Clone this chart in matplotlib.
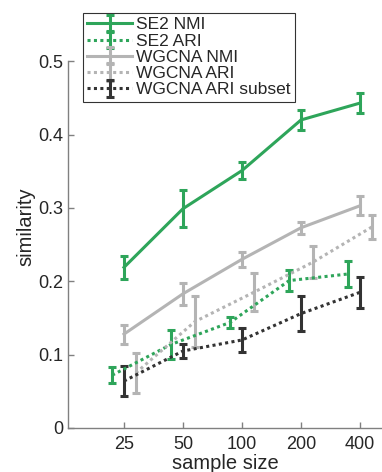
import matplotlib
matplotlib.use("Agg")
import matplotlib.pyplot as plt
import numpy as np

plt.rcParams['font.family'] = ['Liberation Sans', 'DejaVu Sans']

sample_sizes = [25, 50, 100, 200, 400]
tick_labels = ["25", "50", "100", "200", "400"]

se2_nmi = [0.219, 0.299, 0.351, 0.420, 0.443]
se2_nmi_err = [0.016, 0.025, 0.012, 0.014, 0.014]

se2_ari = [0.072, 0.114, 0.144, 0.201, 0.210]
se2_ari_err = [0.011, 0.020, 0.008, 0.014, 0.018]

wgcna_nmi = [0.128, 0.183, 0.230, 0.273, 0.303]
wgcna_nmi_err = [0.013, 0.015, 0.010, 0.008, 0.013]

wgcna_ari = [0.075, 0.145, 0.185, 0.226, 0.274]
wgcna_ari_err = [0.027, 0.035, 0.026, 0.022, 0.016]

wgcna_sub = [0.064, 0.105, 0.120, 0.156, 0.185]
wgcna_sub_err = [0.020, 0.010, 0.017, 0.024, 0.021]

labels = ["SE2 NMI", "SE2 ARI", "WGCNA NMI", "WGCNA ARI", "WGCNA ARI subset"]

green = '#2ea55a'
gray = '#b4b4b4'
dark = '#333333'

fig = plt.figure(figsize=(3.82, 4.72), dpi=100)
ax = fig.add_axes([68/382, 44/472, 1 - 68/382, (428 - 24.6)/472])

x = np.array(sample_sizes, dtype=float)
shift = 2 ** 0.2
lw = 2.2
dot = (0, (1, 1.1))

series = [
    (x, se2_nmi, se2_nmi_err, green, '-', labels[0]),
    (x / shift, se2_ari, se2_ari_err, green, dot, labels[1]),
    (x, wgcna_nmi, wgcna_nmi_err, gray, '-', labels[2]),
    (x * shift, wgcna_ari, wgcna_ari_err, gray, dot, labels[3]),
    (x, wgcna_sub, wgcna_sub_err, dark, dot, labels[4]),
]
handles = []
for xs, ys, es, c, ls, lab in series:
    h = ax.errorbar(xs, ys, yerr=es, color=c, lw=lw, ls=ls, elinewidth=2.2,
                    capsize=3.2, capthick=2.2, label=lab)
    handles.append(h)

ax.set_xscale('log', base=2)
ax.set_xlim(12.95, 518)
ax.set_ylim(0, 0.55)
ax.set_xticks(sample_sizes)
ax.set_xticklabels(tick_labels)
ax.minorticks_off()
ax.set_yticks([0, 0.1, 0.2, 0.3, 0.4, 0.5])
ax.set_yticklabels(["0", "0.1", "0.2", "0.3", "0.4", "0.5"])

for s in ['top', 'right']:
    ax.spines[s].set_visible(False)
ax.spines['left'].set_bounds(0, 0.5)
for s in ['left', 'bottom']:
    ax.spines[s].set_color('#808080')
    ax.spines[s].set_linewidth(1.0)
ax.tick_params(direction='in', length=4, width=1.0, color='#808080',
               labelsize=13, labelcolor='#262626')
ax.tick_params(axis='x', pad=5.5)
ax.tick_params(axis='y', pad=3.5)

ax.set_xlabel("sample size", fontsize=14.5, color='#262626', labelpad=1)
ax.set_ylabel("similarity", fontsize=14.5, color='#262626', labelpad=2)

leg = ax.legend(handles=handles, labels=labels, loc='upper left',
                bbox_to_anchor=(83/382, 1 - 13/472), bbox_transform=fig.transFigure,
                fontsize=12.5, frameon=True, fancybox=False, handlelength=2.6,
                handletextpad=0.2, labelspacing=0.06, borderpad=0.25,
                borderaxespad=0)
leg.get_frame().set_edgecolor('black')
leg.get_frame().set_linewidth(0.8)
for t in leg.get_texts():
    t.set_color('#262626')

fig.savefig("out.png", dpi=100)
